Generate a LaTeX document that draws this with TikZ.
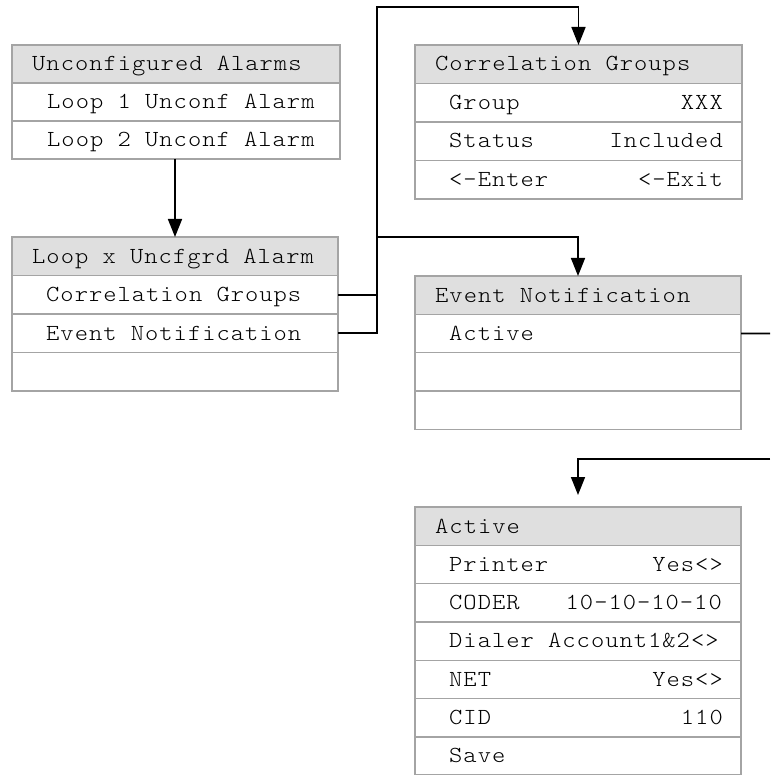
\documentclass[tikz,border=0pt]{standalone}
\usepackage{fontspec}
\usetikzlibrary{arrows.meta}
\definecolor{hdrgray}{HTML}{DFDFDF}
\definecolor{bordergray}{HTML}{A4A4A4}
\newfontfamily\monolt{lmmonolt10-regular}[Extension=.otf, FakeStretch=1.1, LetterSpace=4.35]
\newcommand{\monofnt}{\monolt\fontsize{23}{26}\selectfont}
\begin{document}
\begin{tikzpicture}[x=1pt,y=-1pt,
  rowbox/.style={draw=bordergray, line width=1.4pt, fill=white, anchor=north west, inner sep=0pt, outer sep=0pt},
  hdrbox/.style={rowbox, fill=hdrgray},
  ltxt/.style={anchor=base west, inner sep=0pt, font=\monofnt},
  rtxt/.style={anchor=base east, inner sep=0pt, font=\monofnt},
  conn/.style={draw=black, line width=1.6pt},
  arr/.style={conn, -{Triangle[width=14pt,length=18pt]}}
]
\useasboundingbox (0,0) rectangle (770,775);
\fill[white] (0,0) rectangle (770,775);

% Box 1: Unconfigured Alarms
\node[hdrbox, minimum width=328pt, minimum height=38pt] (ua0) at (12,45) {};
\node[rowbox, minimum width=328pt, minimum height=38pt] (ua1) at (12,83) {};
\node[rowbox, minimum width=328pt, minimum height=38pt] (ua2) at (12,121) {};
\node[ltxt] (ua0t) at (32,70.8) {Unconfigured Alarms};
\node[ltxt] (ua1t) at (47,108.8) {Loop 1 Unconf Alarm};
\node[ltxt] (ua2t) at (47,146.8) {Loop 2 Unconf Alarm};

% Box 2: Loop x Uncfgrd Alarm
\node[hdrbox, minimum width=326pt, minimum height=38.5pt] (lx0) at (12,237) {};
\node[rowbox, minimum width=326pt, minimum height=38.5pt] (lx1) at (12,275.5) {};
\node[rowbox, minimum width=326pt, minimum height=38.5pt] (lx2) at (12,314) {};
\node[rowbox, minimum width=326pt, minimum height=38.5pt] (lx3) at (12,352.5) {};
\node[ltxt] (lx0t) at (32,263) {Loop x Uncfgrd Alarm};
\node[ltxt] (lx1t) at (46,301.5) {Correlation Groups};
\node[ltxt] (lx2t) at (46,340) {Event Notification};

% Box 3: Correlation Groups
\node[hdrbox, minimum width=327pt, minimum height=38.5pt] (cg0) at (415,45) {};
\node[rowbox, minimum width=327pt, minimum height=38.5pt] (cg1) at (415,83.5) {};
\node[rowbox, minimum width=327pt, minimum height=38.5pt] (cg2) at (415,122) {};
\node[rowbox, minimum width=327pt, minimum height=38.5pt] (cg3) at (415,160.5) {};
\node[ltxt] (cg0t) at (435,71) {Correlation Groups};
\node[ltxt] (cg1t) at (449,109.5) {Group};
\node[rtxt] (cg1r) at (723,109.5) {XXX};
\node[ltxt] (cg2t) at (449,148) {Status};
\node[rtxt] (cg2r) at (723,148) {Included};
\node[ltxt] (cg3t) at (449,186.5) {<-Enter};
\node[rtxt] (cg3r) at (723,186.5) {<-Exit};

% Box 4: Event Notification
\node[hdrbox, minimum width=326pt, minimum height=38.3pt] (en0) at (415,276) {};
\node[rowbox, minimum width=326pt, minimum height=38.3pt] (en1) at (415,314.3) {};
\node[rowbox, minimum width=326pt, minimum height=38.3pt] (en2) at (415,352.6) {};
\node[rowbox, minimum width=326pt, minimum height=38.3pt] (en3) at (415,390.9) {};
\node[ltxt] (en0t) at (435,302) {Event Notification};
\node[ltxt] (en1t) at (449,340.3) {Active};

% Box 5: Active
\node[hdrbox, minimum width=326pt, minimum height=38.3pt] (ac0) at (415,507) {};
\node[rowbox, minimum width=326pt, minimum height=38.3pt] (ac1) at (415,545.3) {};
\node[rowbox, minimum width=326pt, minimum height=38.3pt] (ac2) at (415,583.6) {};
\node[rowbox, minimum width=326pt, minimum height=38.3pt] (ac3) at (415,621.9) {};
\node[rowbox, minimum width=326pt, minimum height=38.3pt] (ac4) at (415,660.2) {};
\node[rowbox, minimum width=326pt, minimum height=38.3pt] (ac5) at (415,698.5) {};
\node[rowbox, minimum width=326pt, minimum height=38.3pt] (ac6) at (415,736.8) {};
\node[ltxt] (ac0t) at (435,533) {Active};
\node[ltxt] (ac1t) at (449,571.3) {Printer};
\node[rtxt] (ac1r) at (723,571.3) {Yes<>};
\node[ltxt] (ac2t) at (449,609.6) {CODER};
\node[rtxt] (ac2r) at (722,609.6) {10-10-10-10};
\node[ltxt] (ac3t) at (449,647.9) {Dialer Account1\&2<>};
\node[ltxt] (ac4t) at (449,686.2) {NET};
\node[rtxt] (ac4r) at (723,686.2) {Yes<>};
\node[ltxt] (ac5t) at (449,724.5) {CID};
\node[rtxt] (ac5r) at (723,724.5) {110};
\node[ltxt] (ac6t) at (449,762.8) {Save};

% Connectors
\coordinate (topbus) at (377,7);
\coordinate (midbus) at (377,237);
\coordinate (rout) at (770,333.5);
\coordinate (rin) at (770,459);

\draw[arr] (ua2.south -| lx0.north) -- (lx0.north);
\draw[arr] (lx1.east) -| (topbus) -| (cg0.north);
\draw[arr] (lx2.east) -| (midbus) -| (en0.north);
\draw[conn] (en1.east) -- (rout);
\draw[arr, shorten >=12pt] (rin) -| (ac0.north);
\end{tikzpicture}
\end{document}
